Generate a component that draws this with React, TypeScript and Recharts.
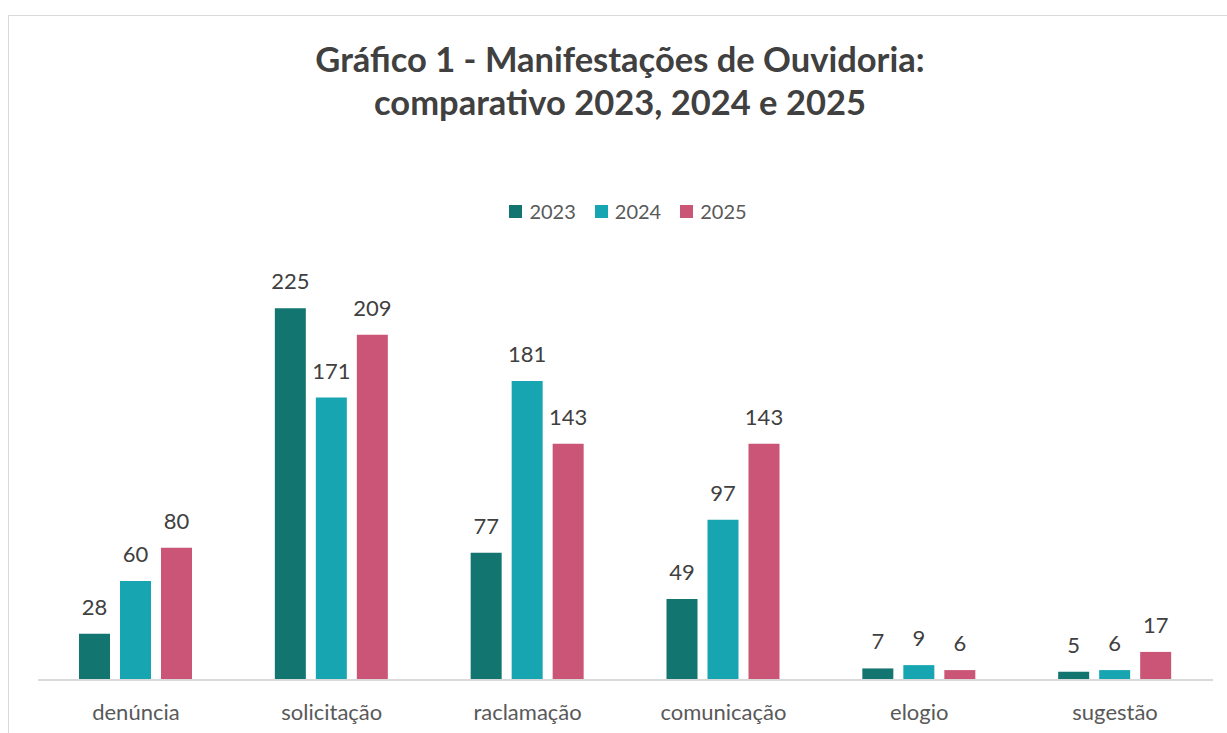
import { BarChart, Bar, XAxis, YAxis, LabelList } from "recharts";

const categories = ["denúncia", "solicitação", "raclamação", "comunicação", "elogio", "sugestão"];
const values2023 = [28, 225, 77, 49, 7, 5];
const values2024 = [60, 171, 181, 97, 9, 6];
const values2025 = [80, 209, 143, 143, 6, 17];
const years = ["2023", "2024", "2025"];
const colors = ["#13756F", "#17A5B1", "#CB5577"];

const data = categories.map((name, i) => ({
  name,
  y2023: values2023[i],
  y2024: values2024[i],
  y2025: values2025[i],
}));

const font = "Lato, 'Open Sans', sans-serif";

export default function App() {
  return (
    <div
      style={{
        position: "fixed",
        left: 0,
        top: 0,
        width: 1227,
        height: 733,
        overflow: "hidden",
        background: "#fff",
        fontFamily: font,
      }}
    >
      <div
        style={{
          position: "absolute",
          left: 8,
          top: 15,
          width: 1230,
          height: 730,
          border: "1px solid #D9D9D9",
        }}
      >
        {/* title */}
        <div
          style={{
            position: "absolute",
            left: 0,
            width: 1222,
            top: 21,
            textAlign: "center",
            color: "#404040",
            fontWeight: 700,
            fontSize: 34.5,
            lineHeight: "43px",
          }}
        >
          Gráfico 1 - Manifestações de Ouvidoria:
          <br />
          comparativo 2023, 2024 e 2025
        </div>

        {/* legend */}
        <div
          style={{
            position: "absolute",
            left: 0,
            width: 1238,
            top: 183,
            display: "flex",
            justifyContent: "center",
            color: "#595959",
            fontSize: 20,
          }}
        >
          {years.map((y, i) => (
            <div key={y} style={{ display: "flex", alignItems: "center", marginRight: i < 2 ? 19 : 0 }}>
              <span style={{ display: "inline-block", width: 13, height: 13, background: colors[i], marginRight: 7 }} />
              <span>{y}</span>
            </div>
          ))}
        </div>

        <div style={{ position: "absolute", left: 0, top: 0 }}>
          <BarChart
            width={1218}
            height={717}
            data={data}
            margin={{ top: 251, right: 14, bottom: 13, left: 29 }}
            barSize={31}
            barGap={10}
          >
            <XAxis
              dataKey="name"
              height={40}
              tickLine={false}
              tickSize={0}
              tickMargin={24}
              axisLine={{ stroke: "#D9D9D9", strokeWidth: 2 }}
              tick={{ fill: "#595959", fontSize: 22, fontFamily: font }}
            />
            <YAxis hide domain={[0, 250]} />
            {years.map((y, i) => (
              <Bar key={y} dataKey={`y${y}`} fill={colors[i]} isAnimationActive={false}>
                <LabelList
                  dataKey={`y${y}`}
                  position="top"
                  offset={19}
                  fill="#404040"
                  fontSize={22}
                  fontFamily={font}
                />
              </Bar>
            ))}
          </BarChart>
        </div>
      </div>
    </div>
  );
}
